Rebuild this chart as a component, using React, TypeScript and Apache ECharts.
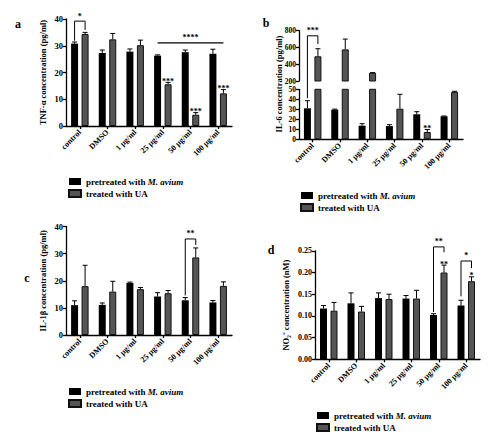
import React, { useEffect, useRef } from 'react';
import * as echarts from 'echarts';

const categories = ['control', 'DMSO', '1 µg/ml', '25 µg/ml', '50 µg/ml', '100 µg/ml'];
const seriesNames = ['pretreated with M. avium', 'treated with UA'];

// Panel a – TNF-α (pg/ml)
const tnfPre = [30.8, 27.3, 27.8, 26.3, 27.6, 27.0];
const tnfPreErr = [31.4, 28.4, 28.8, 26.6, 28.4, 28.7];
const tnfUA = [34.4, 32.4, 30.2, 15.6, 4.2, 12.2];
const tnfUAErr = [35.0, 34.6, 32.1, 16.3, 5.0, 13.6];
const tnfUAStars = ['', '', '', '***', '***', '***'];
const tnfBrackets = [{ cat: 0, top: 39.2, leftBottom: 31.9, rightBottom: 35.9, label: '*' }];
const tnfSpans = [{ from: 3, to: 5, y: 31.1, label: '****' }];
const tnfTicks = { min: 0, max: 40, interval: 10 };

// Panel b – IL-6 (pg/ml), broken axis
const il6Pre = [31, 29.6, 13.6, 13.2, 25, 23];
const il6PreErr = [38.6, 30.2, 15.6, 14.6, 27.6, 23.3];
const il6UA = [495, 577, 298, 30.6, 7.3, 47.4];
const il6UAErr = [585, 700, 300, 45, 9.8, 48];
const il6UAStars = ['', '', '', '', '**', ''];
const il6Brackets = [{ cat: 0, top: 739, leftBottom: 41, rightBottom: 640, label: '***' }];
const il6UpperTicks = { min: 200, max: 800, interval: 200 };
const il6LowerTicks = { min: 0, max: 50, interval: 10 };

// Panel c – IL-1β (pg/ml)
const il1Pre = [11.0, 11.1, 19.2, 14.2, 12.8, 12.0];
const il1PreErr = [12.6, 11.8, 19.5, 15.6, 13.8, 12.7];
const il1UA = [18.0, 16.0, 16.9, 15.4, 28.6, 18.1];
const il1UAErr = [25.7, 19.8, 17.5, 16.4, 32.1, 19.6];
const il1Brackets = [{ cat: 4, top: 35.4, leftBottom: 14.6, rightBottom: 33.2, label: '**' }];
const il1Ticks = { min: 0, max: 40, interval: 10 };

// Panel d – NO2- (nM)
const noPre = [0.117, 0.129, 0.141, 0.140, 0.102, 0.124];
const noPreErr = [0.124, 0.153, 0.153, 0.147, 0.105, 0.136];
const noUA = [0.112, 0.110, 0.139, 0.140, 0.200, 0.180];
const noUAErr = [0.131, 0.122, 0.150, 0.159, 0.217, 0.190];
const noUAStars = ['', '', '', '', '**', '*'];
const noBrackets = [
  { cat: 4, top: 0.259, leftBottom: 0.109, rightBottom: 0.2465, label: '**' },
  { cat: 5, top: 0.2265, leftBottom: 0.145, rightBottom: 0.21, label: '*' },
];
const noTicks = { min: 0, max: 0.25, interval: 0.05 };

const FONT = '"Liberation Serif", "Times New Roman", serif';
const BAR_W = 7;
const BAR_GAP = 3.5;
const OFF = (BAR_W + BAR_GAP) / 2;
const CAP = 2.5;
const AX_W = 1.3;

const gridA = { left: 66, top: 19, width: 166, height: 107 };
const gridBU = { left: 299, top: 30.7, width: 164, height: 50.3 };
const gridBL = { left: 299, top: 89.3, width: 164, height: 50 };
const gridC = { left: 66, top: 226.5, width: 166, height: 108.5 };
const gridD = { left: 315, top: 250.8, width: 165, height: 108.5 };
const B_GAP = gridBL.top - (gridBU.top + gridBU.height);

const starFont = `bold 8px ${FONT}`;

function xAxis(gridIndex: number, show = true): any {
  return {
    type: 'category',
    gridIndex,
    data: categories,
    show,
    axisLine: { show, lineStyle: { color: '#000', width: AX_W } },
    axisTick: { show, alignWithLabel: true, length: 3, lineStyle: { color: '#000', width: AX_W } },
    axisLabel: {
      show,
      rotate: 45,
      interval: 0,
      margin: 5,
      fontFamily: FONT,
      fontWeight: 'bold',
      fontSize: 8,
      color: '#000',
    },
    splitLine: { show: false },
  };
}

function yAxis(gridIndex: number, t: { min: number; max: number; interval: number }, extra: any = {}): any {
  return {
    type: 'value',
    gridIndex,
    min: t.min,
    max: t.max,
    interval: t.interval,
    axisLine: { show: true, lineStyle: { color: '#000', width: AX_W } },
    axisTick: { show: true, length: 3, lineStyle: { color: '#000', width: AX_W } },
    axisLabel: {
      fontFamily: FONT,
      fontWeight: 'bold',
      fontSize: 8.5,
      color: '#000',
      margin: 3,
      ...(extra.axisLabel || {}),
    },
    splitLine: { show: false },
    ...(extra.name
      ? {
          name: extra.name,
          nameLocation: 'middle',
          nameGap: extra.nameGap,
          nameTextStyle: { fontFamily: FONT, fontWeight: 'bold', fontSize: 8.5, color: '#000' },
        }
      : {}),
  };
}

function bars(axisIndex: number, pre: number[], ua: number[]): any[] {
  return [
    {
      type: 'bar',
      name: seriesNames[0],
      xAxisIndex: axisIndex,
      yAxisIndex: axisIndex,
      data: pre,
      barWidth: BAR_W,
      barGap: `${(BAR_GAP / BAR_W) * 100}%`,
      clip: true,
      silent: true,
      itemStyle: { color: '#000' },
    },
    {
      type: 'bar',
      name: seriesNames[1],
      xAxisIndex: axisIndex,
      yAxisIndex: axisIndex,
      data: ua,
      barWidth: BAR_W,
      barGap: `${(BAR_GAP / BAR_W) * 100}%`,
      clip: true,
      silent: true,
      itemStyle: { color: '#555555', borderColor: '#111', borderWidth: 1 },
    },
  ];
}

function errors(axisIndex: number, vals: number[], tops: number[], offset: number, stars: string[] | null, clip = false): any {
  return {
    type: 'custom',
    xAxisIndex: axisIndex,
    yAxisIndex: axisIndex,
    silent: true,
    clip,
    z: 5,
    data: vals.map((v, i) => [i, v, tops[i]]),
    renderItem: (params: any, api: any) => {
      const i = params.dataIndex;
      const b = api.coord([api.value(0), api.value(1)]);
      const t = api.coord([api.value(0), api.value(2)]);
      const cx = b[0] + offset;
      const children: any[] = [
        { type: 'line', shape: { x1: cx, y1: b[1], x2: cx, y2: t[1] }, style: { stroke: '#000', lineWidth: 1 } },
        { type: 'line', shape: { x1: cx - CAP, y1: t[1], x2: cx + CAP, y2: t[1] }, style: { stroke: '#000', lineWidth: 1 } },
      ];
      if (stars && stars[i]) {
        children.push({
          type: 'text',
          x: cx,
          y: t[1] + 3,
          style: { text: stars[i], font: starFont, fill: '#000', align: 'center', verticalAlign: 'bottom' },
        });
      }
      return { type: 'group', children };
    },
  };
}

type Bracket = { cat: number; top: number; leftBottom: number; rightBottom: number; label: string };

function brackets(axisIndex: number, list: Bracket[], mode: 'full' | 'upper' | 'lowerLeg' = 'full'): any {
  return {
    type: 'custom',
    xAxisIndex: axisIndex,
    yAxisIndex: axisIndex,
    silent: true,
    clip: false,
    z: 6,
    data: list.map((b) => [b.cat, b.top, b.leftBottom, b.rightBottom]),
    renderItem: (params: any, api: any) => {
      const b = list[params.dataIndex];
      const cs = params.coordSys;
      if (mode === 'lowerLeg') {
        const p = api.coord([b.cat, b.leftBottom]);
        const lx = p[0] - OFF;
        return {
          type: 'line',
          shape: { x1: lx, y1: cs.y - B_GAP, x2: lx, y2: p[1] },
          style: { stroke: '#000', lineWidth: 1 },
        };
      }
      const pt = api.coord([b.cat, b.top]);
      const lx = pt[0] - OFF;
      const rx = pt[0] + OFF;
      const lb = mode === 'upper' ? cs.y + cs.height : api.coord([b.cat, b.leftBottom])[1];
      const rb = api.coord([b.cat, b.rightBottom])[1];
      return {
        type: 'group',
        children: [
          {
            type: 'polyline',
            shape: { points: [[lx, lb], [lx, pt[1]], [rx, pt[1]], [rx, rb]] },
            style: { stroke: '#000', lineWidth: 1, fill: 'none' },
          },
          {
            type: 'text',
            x: (lx + rx) / 2,
            y: pt[1] - 1,
            style: { text: b.label, font: starFont, fill: '#000', align: 'center', verticalAlign: 'bottom' },
          },
        ],
      };
    },
  };
}

function spans(axisIndex: number, list: { from: number; to: number; y: number; label: string }[]): any {
  return {
    type: 'custom',
    xAxisIndex: axisIndex,
    yAxisIndex: axisIndex,
    silent: true,
    clip: false,
    z: 6,
    data: list.map((s) => [s.from, s.y, s.to]),
    renderItem: (params: any, api: any) => {
      const s = list[params.dataIndex];
      const a = api.coord([s.from, s.y]);
      const b = api.coord([s.to, s.y]);
      const x1 = a[0] - OFF;
      const x2 = b[0] + OFF;
      return {
        type: 'group',
        children: [
          { type: 'line', shape: { x1, y1: a[1], x2, y2: a[1] }, style: { stroke: '#000', lineWidth: 1.2 } },
          {
            type: 'text',
            x: (x1 + x2) / 2,
            y: a[1] - 1,
            style: { text: s.label, font: starFont, fill: '#000', align: 'center', verticalAlign: 'bottom' },
          },
        ],
      };
    },
  };
}

function legend(left: number, top: number): any {
  return {
    orient: 'vertical',
    left,
    top,
    data: seriesNames,
    icon: 'rect',
    itemWidth: 12,
    itemHeight: 7,
    itemGap: 3,
    selectedMode: false,
    padding: 0,
    formatter: (name: string) =>
      name === seriesNames[0] ? '{n|pretreated with }{i|M. avium}' : '{n|treated with UA}',
    textStyle: {
      fontFamily: FONT,
      fontWeight: 'bold',
      fontSize: 9,
      color: '#000',
      rich: {
        n: { fontFamily: FONT, fontWeight: 'bold', fontSize: 9, color: '#000', lineHeight: 11 },
        i: { fontFamily: FONT, fontWeight: 'bold', fontStyle: 'italic', fontSize: 9, color: '#000', lineHeight: 11 },
      },
    },
  };
}

function letter(text: string, x: number, y: number): any {
  return {
    type: 'text',
    x,
    y,
    style: { text, font: `bold 12px ${FONT}`, fill: '#000', align: 'center', verticalAlign: 'middle' },
  };
}

export default function App() {
  const ref = useRef<HTMLDivElement>(null);
  useEffect(() => {
    if (!ref.current) return;
    const chart = echarts.init(ref.current, undefined, { renderer: 'svg' });
    const option: any = {
      animation: false,
      backgroundColor: '#fff',
      grid: [gridA, gridBU, gridBL, gridC, gridD].map((g) => ({ ...g, containLabel: false })),
      xAxis: [xAxis(0), xAxis(1, false), xAxis(2), xAxis(3), xAxis(4)],
      yAxis: [
        yAxis(0, tnfTicks, { name: 'TNF-α concentration (pg/ml)', nameGap: 19 }),
        yAxis(1, il6UpperTicks, { axisLabel: { fontSize: 7.5 } }),
        yAxis(2, il6LowerTicks, { axisLabel: { fontSize: 7.5 } }),
        yAxis(3, il1Ticks, { name: 'IL-1β concentration (pg/ml)', nameGap: 19 }),
        yAxis(4, noTicks, {
          name: 'NO₂⁻ concentration (nM)',
          nameGap: 25,
          axisLabel: { fontSize: 8, formatter: (v: number) => v.toFixed(2) },
        }),
      ],
      legend: [legend(68, 177), legend(300, 191), legend(68, 387), legend(316, 411)],
      graphic: [
        letter('a', 18, 24),
        letter('b', 266, 23),
        letter('c', 27, 278),
        letter('d', 271, 250),
        {
          type: 'text',
          x: 279,
          y: 84,
          rotation: Math.PI / 2,
          style: {
            text: 'IL-6 concentration (pg/ml)',
            font: `bold 8.5px ${FONT}`,
            fill: '#000',
            align: 'center',
            verticalAlign: 'middle',
          },
        },
      ],
      series: [
        ...bars(0, tnfPre, tnfUA),
        errors(0, tnfPre, tnfPreErr, -OFF, null),
        errors(0, tnfUA, tnfUAErr, OFF, tnfUAStars),
        brackets(0, tnfBrackets),
        spans(0, tnfSpans),

        ...bars(1, il6Pre, il6UA),
        errors(1, il6Pre, il6PreErr, -OFF, null, true),
        errors(1, il6UA, il6UAErr, OFF, null, true),
        brackets(1, il6Brackets, 'upper'),
        ...bars(2, il6Pre, il6UA),
        errors(2, il6Pre, il6PreErr, -OFF, null, true),
        errors(2, il6UA, il6UAErr, OFF, il6UAStars, true),
        brackets(2, il6Brackets, 'lowerLeg'),

        ...bars(3, il1Pre, il1UA),
        errors(3, il1Pre, il1PreErr, -OFF, null),
        errors(3, il1UA, il1UAErr, OFF, null),
        brackets(3, il1Brackets),

        ...bars(4, noPre, noUA),
        errors(4, noPre, noPreErr, -OFF, null),
        errors(4, noUA, noUAErr, OFF, noUAStars),
        brackets(4, noBrackets),
      ],
    };
    chart.setOption(option);
    return () => chart.dispose();
  }, []);
  return <div ref={ref} style={{ position: 'absolute', left: 0, top: 0, width: 500, height: 443 }} />;
}
